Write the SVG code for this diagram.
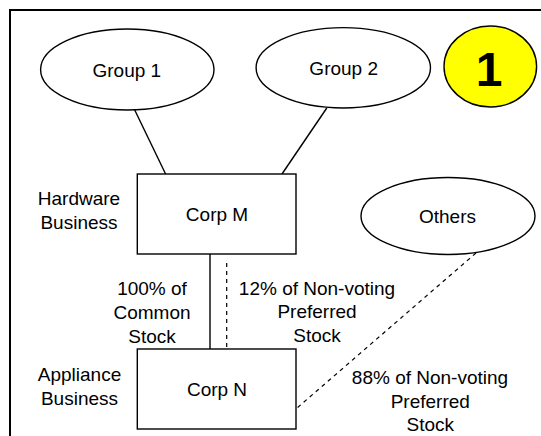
<svg xmlns="http://www.w3.org/2000/svg" width="541" height="436" viewBox="0 0 541 436">
<style>
.s{fill:#fff;stroke:#000;stroke-width:1.4}
.t{font-family:"Liberation Sans",Arial,sans-serif;font-size:19px;fill:#000;text-anchor:middle}
.l{stroke:#000;stroke-width:1.4;fill:none}
.d{stroke:#000;stroke-width:1.2;fill:none;stroke-dasharray:4 4}
</style>
<rect x="0" y="0" width="541" height="436" fill="#fff"/>
<rect x="10" y="10" width="620" height="520" fill="none" stroke="#000" stroke-width="2"/>
<g id="connectors">
<line class="l" x1="134.6" y1="109.7" x2="165.6" y2="174"/>
<line class="l" x1="326.8" y1="108" x2="282" y2="174"/>
<line class="l" x1="210" y1="254" x2="210" y2="349"/>
<line class="d" x1="226.7" y1="263" x2="226.7" y2="349"/>
<line class="d" x1="476" y1="253" x2="296.7" y2="408.3"/>
</g>
<g id="group1">
<ellipse class="s" cx="127.3" cy="69.5" rx="86.7" ry="40.5"/>
<text class="t" x="126.8" y="76.6">Group 1</text>
</g>
<g id="group2">
<ellipse class="s" cx="343.3" cy="67.8" rx="87.2" ry="40.2"/>
<text class="t" x="343.7" y="74.5">Group 2</text>
</g>
<g id="badge">
<ellipse cx="490.3" cy="66.5" rx="46.3" ry="40.5" fill="#ffff00" stroke="#000" stroke-width="1.4"/>
<text x="489" y="86" font-family="'Liberation Sans',Arial,sans-serif" font-size="48" font-weight="bold" text-anchor="middle">1</text>
</g>
<g id="corpM">
<rect class="s" x="137.3" y="174" width="158.7" height="80"/>
<text class="t" x="217" y="220.5">Corp M</text>
</g>
<g id="hardware">
<text class="t" x="79" y="205">Hardware</text>
<text class="t" x="79" y="228.5">Business</text>
</g>
<g id="others">
<ellipse class="s" cx="448" cy="216" rx="87" ry="38.5"/>
<text class="t" x="447.5" y="223.3">Others</text>
</g>
<g id="corpN">
<rect class="s" x="137.3" y="349" width="158.7" height="80"/>
<text class="t" x="217" y="395.5">Corp N</text>
</g>
<g id="appliance">
<text class="t" x="79.5" y="381">Appliance</text>
<text class="t" x="79.5" y="404.5">Business</text>
</g>
<g id="label-common">
<text class="t" x="152" y="295">100% of</text>
<text class="t" x="152" y="319">Common</text>
<text class="t" x="152" y="342.7">Stock</text>
</g>
<g id="label-12">
<text class="t" x="317" y="294.5">12% of Non-voting</text>
<text class="t" x="317" y="318.3">Preferred</text>
<text class="t" x="317" y="342.3">Stock</text>
</g>
<g id="label-88">
<text class="t" x="430" y="384.3">88% of Non-voting</text>
<text class="t" x="430.3" y="407.7">Preferred</text>
<text class="t" x="430.3" y="431">Stock</text>
</g>
</svg>
